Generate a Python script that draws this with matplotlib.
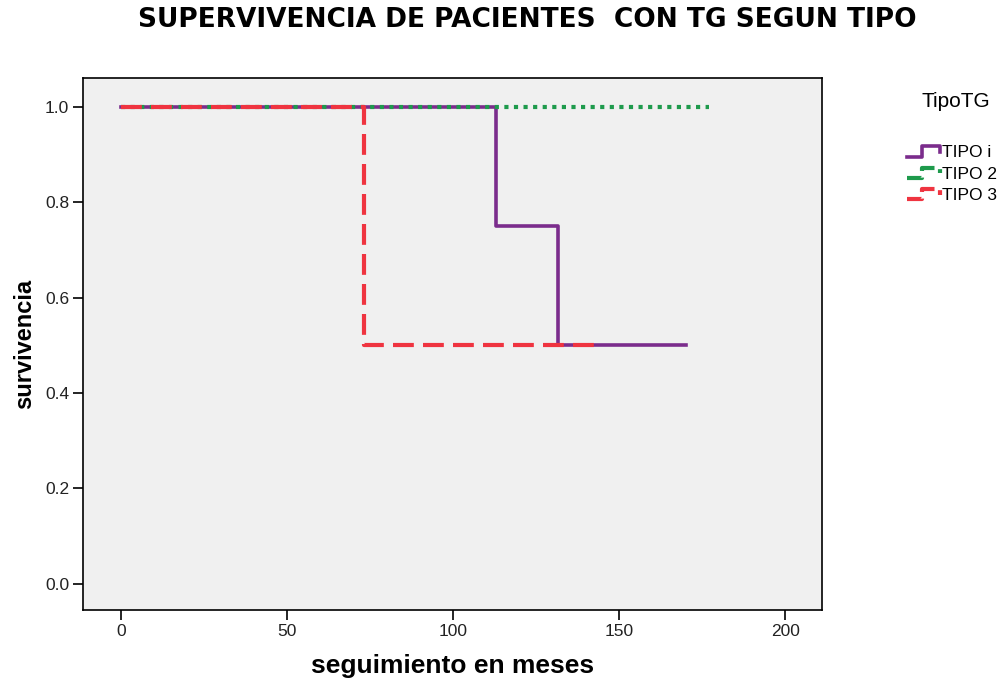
#!/usr/bin/env python3
"""Kaplan-Meier style survival curves by TG type."""

import matplotlib

matplotlib.use("Agg")
import matplotlib.pyplot as plt
from matplotlib.legend_handler import HandlerBase
from matplotlib.lines import Line2D

plt.rcParams["font.family"] = ["Liberation Sans", "DejaVu Sans"]

SERIES = ["TIPO i", "TIPO 2", "TIPO 3"]
TIMES_1 = [0, 113, 131.5, 170]
SURV_1 = [1.0, 0.75, 0.5, 0.5]
TIMES_2 = [0, 177]
SURV_2 = [1.0, 1.0]
TIMES_3 = [0, 73, 143.5]
SURV_3 = [1.0, 0.5, 0.5]

X_TICKS = [0, 50, 100, 150, 200]
Y_TICKS = [0.0, 0.2, 0.4, 0.6, 0.8, 1.0]

STYLES = [
    {"color": "#7B2C8C", "linestyle": "-", "linewidth": 2.6},
    {"color": "#1E9A4C", "linestyle": (0, (1, 1.3)), "linewidth": 3.0},
    {"color": "#EF3440", "linestyle": (0, (5, 2.2)), "linewidth": 3.0},
]


class StepHandler(HandlerBase):
    def create_artists(self, legend, orig_handle, xdescent, ydescent,
                       width, height, fontsize, trans):
        x0 = -xdescent
        mid = -ydescent + 0.5 * height
        step = 0.3 * fontsize
        xs = [x0, x0 + 0.45 * width, x0 + 0.45 * width, x0 + width, x0 + width]
        ys = [mid - step, mid - step, mid + step, mid + step, mid - 0.1 * step]
        line = Line2D(xs, ys, color=orig_handle.get_color(),
                      linestyle=orig_handle.get_linestyle(),
                      linewidth=orig_handle.get_linewidth())
        line.set_transform(trans)
        return [line]


fig = plt.figure(figsize=(10.05, 6.83), dpi=100)
ax = fig.add_axes([0.0826, 0.107, 0.735, 0.779])
ax.set_facecolor("#F0F0F0")

handles = []
for times, surv, label, style in zip(
    [TIMES_1, TIMES_2, TIMES_3], [SURV_1, SURV_2, SURV_3], SERIES, STYLES
):
    (line,) = ax.step(times, surv, where="post", label=label, **style)
    handles.append(line)

ax.set_xlim(-11.5, 211)
ax.set_ylim(-0.055, 1.061)
ax.set_xticks(X_TICKS)
ax.set_yticks(Y_TICKS)
ax.set_yticklabels([f"{v:.1f}" for v in Y_TICKS])
ax.tick_params(direction="out", length=7, width=1.2, labelsize=12.5, pad=3,
               labelcolor="#222222")
for spine in ax.spines.values():
    spine.set_linewidth(1.2)

ax.set_xlabel("seguimiento en meses", fontsize=19, fontweight="bold", labelpad=11)
ax.set_ylabel("survivencia", fontsize=17, fontweight="bold", labelpad=6)
fig.suptitle("SUPERVIVENCIA DE PACIENTES  CON TG SEGUN TIPO",
             family="DejaVu Sans", fontsize=19, fontweight="bold",
             x=0.525, y=0.99)

fig.text(0.951, 0.852, "TipoTG", fontsize=15, ha="center", va="center")
fig.legend(handles=handles, labels=SERIES, loc="upper left",
           bbox_to_anchor=(0.894, 0.80), frameon=False, fontsize=12.5,
           handler_map={Line2D: StepHandler()}, handlelength=1.9,
           handletextpad=0.1, labelspacing=0.36, borderpad=0)

fig.savefig("out.png", dpi=100)
